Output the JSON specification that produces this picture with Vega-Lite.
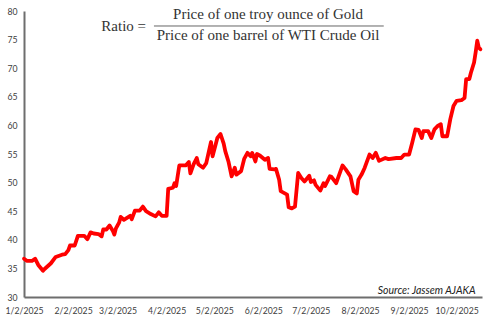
{
  "$schema": "https://vega.github.io/schema/vega-lite/v6.json",
  "width": 458,
  "height": 286,
  "autosize": {"type": "none"},
  "padding": {"left": 24, "top": 11, "right": 11, "bottom": 24},
  "background": "white",
  "config": {"view": {"stroke": null}},
  "datasets": {
    "ratio": [
      {"date": "2025-01-02", "value": 36.7},
      {"date": "2025-01-04", "value": 36.3},
      {"date": "2025-01-07", "value": 36.3},
      {"date": "2025-01-09", "value": 36.7},
      {"date": "2025-01-11", "value": 35.6},
      {"date": "2025-01-14", "value": 34.6},
      {"date": "2025-01-15", "value": 34.9},
      {"date": "2025-01-19", "value": 35.9},
      {"date": "2025-01-22", "value": 37.0},
      {"date": "2025-01-26", "value": 37.4},
      {"date": "2025-01-28", "value": 37.5},
      {"date": "2025-01-30", "value": 38.2},
      {"date": "2025-01-31", "value": 39.0},
      {"date": "2025-02-03", "value": 39.0},
      {"date": "2025-02-05", "value": 40.7},
      {"date": "2025-02-09", "value": 40.7},
      {"date": "2025-02-11", "value": 40.1},
      {"date": "2025-02-13", "value": 41.3},
      {"date": "2025-02-15", "value": 41.1},
      {"date": "2025-02-18", "value": 41.0},
      {"date": "2025-02-20", "value": 40.6},
      {"date": "2025-02-21", "value": 41.8},
      {"date": "2025-02-23", "value": 41.8},
      {"date": "2025-02-25", "value": 42.5},
      {"date": "2025-02-27", "value": 41.6},
      {"date": "2025-02-28", "value": 40.9},
      {"date": "2025-03-01", "value": 42.0},
      {"date": "2025-03-03", "value": 43.0},
      {"date": "2025-03-04", "value": 44.0},
      {"date": "2025-03-06", "value": 43.5},
      {"date": "2025-03-10", "value": 44.2},
      {"date": "2025-03-11", "value": 43.6},
      {"date": "2025-03-13", "value": 45.1},
      {"date": "2025-03-16", "value": 45.1},
      {"date": "2025-03-18", "value": 45.8},
      {"date": "2025-03-20", "value": 45.0},
      {"date": "2025-03-23", "value": 44.5},
      {"date": "2025-03-26", "value": 44.1},
      {"date": "2025-03-28", "value": 44.8},
      {"date": "2025-03-30", "value": 44.2},
      {"date": "2025-04-02", "value": 44.2},
      {"date": "2025-04-03", "value": 48.9},
      {"date": "2025-04-06", "value": 49.1},
      {"date": "2025-04-07", "value": 49.9},
      {"date": "2025-04-08", "value": 49.4},
      {"date": "2025-04-10", "value": 53.0},
      {"date": "2025-04-14", "value": 53.0},
      {"date": "2025-04-16", "value": 53.6},
      {"date": "2025-04-17", "value": 51.6},
      {"date": "2025-04-19", "value": 53.2},
      {"date": "2025-04-21", "value": 54.3},
      {"date": "2025-04-22", "value": 53.2},
      {"date": "2025-04-25", "value": 52.6},
      {"date": "2025-04-27", "value": 53.4},
      {"date": "2025-04-30", "value": 57.1},
      {"date": "2025-05-01", "value": 54.6},
      {"date": "2025-05-04", "value": 57.8},
      {"date": "2025-05-06", "value": 58.5},
      {"date": "2025-05-08", "value": 56.8},
      {"date": "2025-05-09", "value": 55.5},
      {"date": "2025-05-11", "value": 53.7},
      {"date": "2025-05-13", "value": 51.1},
      {"date": "2025-05-15", "value": 52.6},
      {"date": "2025-05-16", "value": 51.4},
      {"date": "2025-05-19", "value": 52.0},
      {"date": "2025-05-21", "value": 54.2},
      {"date": "2025-05-23", "value": 55.2},
      {"date": "2025-05-25", "value": 54.6},
      {"date": "2025-05-26", "value": 55.2},
      {"date": "2025-05-28", "value": 53.7},
      {"date": "2025-05-29", "value": 55.0},
      {"date": "2025-05-31", "value": 54.7},
      {"date": "2025-06-03", "value": 54.0},
      {"date": "2025-06-05", "value": 54.3},
      {"date": "2025-06-06", "value": 52.4},
      {"date": "2025-06-09", "value": 52.3},
      {"date": "2025-06-10", "value": 52.4},
      {"date": "2025-06-12", "value": 50.5},
      {"date": "2025-06-13", "value": 48.5},
      {"date": "2025-06-15", "value": 48.2},
      {"date": "2025-06-17", "value": 47.9},
      {"date": "2025-06-18", "value": 45.7},
      {"date": "2025-06-20", "value": 45.5},
      {"date": "2025-06-22", "value": 45.8},
      {"date": "2025-06-24", "value": 51.7},
      {"date": "2025-06-26", "value": 50.8},
      {"date": "2025-06-28", "value": 50.2},
      {"date": "2025-07-01", "value": 51.2},
      {"date": "2025-07-02", "value": 50.1},
      {"date": "2025-07-04", "value": 50.4},
      {"date": "2025-07-05", "value": 49.6},
      {"date": "2025-07-08", "value": 48.6},
      {"date": "2025-07-10", "value": 49.9},
      {"date": "2025-07-11", "value": 49.4},
      {"date": "2025-07-14", "value": 51.1},
      {"date": "2025-07-15", "value": 51.0},
      {"date": "2025-07-18", "value": 49.9},
      {"date": "2025-07-22", "value": 53.0},
      {"date": "2025-07-24", "value": 52.3},
      {"date": "2025-07-27", "value": 51.1},
      {"date": "2025-07-29", "value": 48.5},
      {"date": "2025-07-31", "value": 48.1},
      {"date": "2025-08-01", "value": 50.5},
      {"date": "2025-08-03", "value": 51.4},
      {"date": "2025-08-05", "value": 52.6},
      {"date": "2025-08-08", "value": 54.9},
      {"date": "2025-08-10", "value": 54.3},
      {"date": "2025-08-12", "value": 55.2},
      {"date": "2025-08-14", "value": 53.8},
      {"date": "2025-08-18", "value": 54.3},
      {"date": "2025-08-20", "value": 54.1},
      {"date": "2025-08-25", "value": 54.3},
      {"date": "2025-08-28", "value": 54.3},
      {"date": "2025-08-30", "value": 54.9},
      {"date": "2025-09-02", "value": 54.9},
      {"date": "2025-09-04", "value": 57.0},
      {"date": "2025-09-06", "value": 59.3},
      {"date": "2025-09-08", "value": 59.2},
      {"date": "2025-09-10", "value": 57.8},
      {"date": "2025-09-11", "value": 59.0},
      {"date": "2025-09-14", "value": 59.0},
      {"date": "2025-09-16", "value": 57.8},
      {"date": "2025-09-18", "value": 59.3},
      {"date": "2025-09-20", "value": 59.9},
      {"date": "2025-09-22", "value": 60.2},
      {"date": "2025-09-23", "value": 58.1},
      {"date": "2025-09-26", "value": 58.1},
      {"date": "2025-09-28", "value": 61.1},
      {"date": "2025-09-30", "value": 63.4},
      {"date": "2025-10-02", "value": 64.3},
      {"date": "2025-10-05", "value": 64.4},
      {"date": "2025-10-07", "value": 64.8},
      {"date": "2025-10-08", "value": 68.1},
      {"date": "2025-10-10", "value": 68.1},
      {"date": "2025-10-11", "value": 69.2},
      {"date": "2025-10-13", "value": 71.0},
      {"date": "2025-10-14", "value": 72.8},
      {"date": "2025-10-15", "value": 74.8},
      {"date": "2025-10-16", "value": 73.6},
      {"date": "2025-10-17", "value": 73.3}
    ],
    "lhs": [
      {"date": "2025-03-20", "value": 76.5, "label": "Ratio ="}
    ],
    "fractionText": [
      {"date": "2025-06-05", "value": 78.6, "label": "Price of one troy ounce of Gold"},
      {"date": "2025-06-05", "value": 74.95, "label": "Price of one barrel of WTI Crude Oil"}
    ],
    "fraction": [
      {"date": "2025-03-25", "end": "2025-08-17", "value": 77.38}
    ],
    "source": [
      {"date": "2025-10-14", "value": 30.55, "label": "Source: Jassem AJAKA"}
    ]
  },
  "encoding": {
    "x": {
      "field": "date",
      "type": "temporal",
      "scale": {
        "type": "utc",
        "domain": [
          {"year": 2025, "month": 1, "date": 2, "utc": true},
          {"year": 2025, "month": 10, "date": 18, "utc": true}
        ],
        "nice": false
      },
      "axis": {
        "title": null,
        "grid": false,
        "ticks": false,
        "tickSize": 0,
        "domainColor": "#6e6e6e",
        "domainWidth": 2,
        "labelFont": "Lato",
        "labelFontSize": 8.7,
        "labelColor": "#404040",
        "labelPadding": 9,
        "labelFlush": false,
        "labelOverlap": false,
        "labelBaseline": "top",
        "values": [
          {"year": 2025, "month": 1, "date": 2, "utc": true},
          {"year": 2025, "month": 2, "date": 2, "utc": true},
          {"year": 2025, "month": 3, "date": 2, "utc": true},
          {"year": 2025, "month": 4, "date": 2, "utc": true},
          {"year": 2025, "month": 5, "date": 2, "utc": true},
          {"year": 2025, "month": 6, "date": 2, "utc": true},
          {"year": 2025, "month": 7, "date": 2, "utc": true},
          {"year": 2025, "month": 8, "date": 2, "utc": true},
          {"year": 2025, "month": 9, "date": 2, "utc": true},
          {"year": 2025, "month": 10, "date": 2, "utc": true}
        ],
        "labelExpr": "utcFormat(datum.value, '%-m/%-d/%Y')"
      }
    },
    "y": {
      "field": "value",
      "type": "quantitative",
      "scale": {"domain": [30, 80], "nice": false, "zero": false},
      "axis": {
        "title": null,
        "grid": false,
        "ticks": false,
        "tickSize": 0,
        "values": [30, 35, 40, 45, 50, 55, 60, 65, 70, 75, 80],
        "labelOverlap": false,
        "labelFlush": false,
        "domainColor": "#6e6e6e",
        "domainWidth": 2,
        "labelFont": "Lato",
        "labelFontSize": 8.7,
        "labelColor": "#404040",
        "labelPadding": 7
      }
    }
  },
  "layer": [
    {
      "data": {"name": "ratio"},
      "mark": {"type": "line", "color": "#FF0000", "strokeWidth": 3.8, "strokeJoin": "round", "strokeCap": "round"}
    },
    {
      "data": {"name": "lhs"},
      "mark": {"type": "text", "font": "Liberation Serif", "fontSize": 15, "color": "#333333", "baseline": "alphabetic", "align": "right"},
      "encoding": {"text": {"field": "label"}}
    },
    {
      "data": {"name": "fractionText"},
      "mark": {"type": "text", "font": "Liberation Serif", "fontSize": 15, "color": "#333333", "baseline": "alphabetic", "align": "center"},
      "encoding": {"text": {"field": "label"}}
    },
    {
      "data": {"name": "fraction"},
      "mark": {"type": "rule", "color": "#666666", "strokeWidth": 1},
      "encoding": {"x2": {"field": "end"}}
    },
    {
      "data": {"name": "source"},
      "mark": {"type": "text", "font": "Lato", "fontStyle": "italic", "fontSize": 10.5, "color": "#222222", "align": "right", "baseline": "alphabetic"},
      "encoding": {"text": {"field": "label"}}
    }
  ]
}
